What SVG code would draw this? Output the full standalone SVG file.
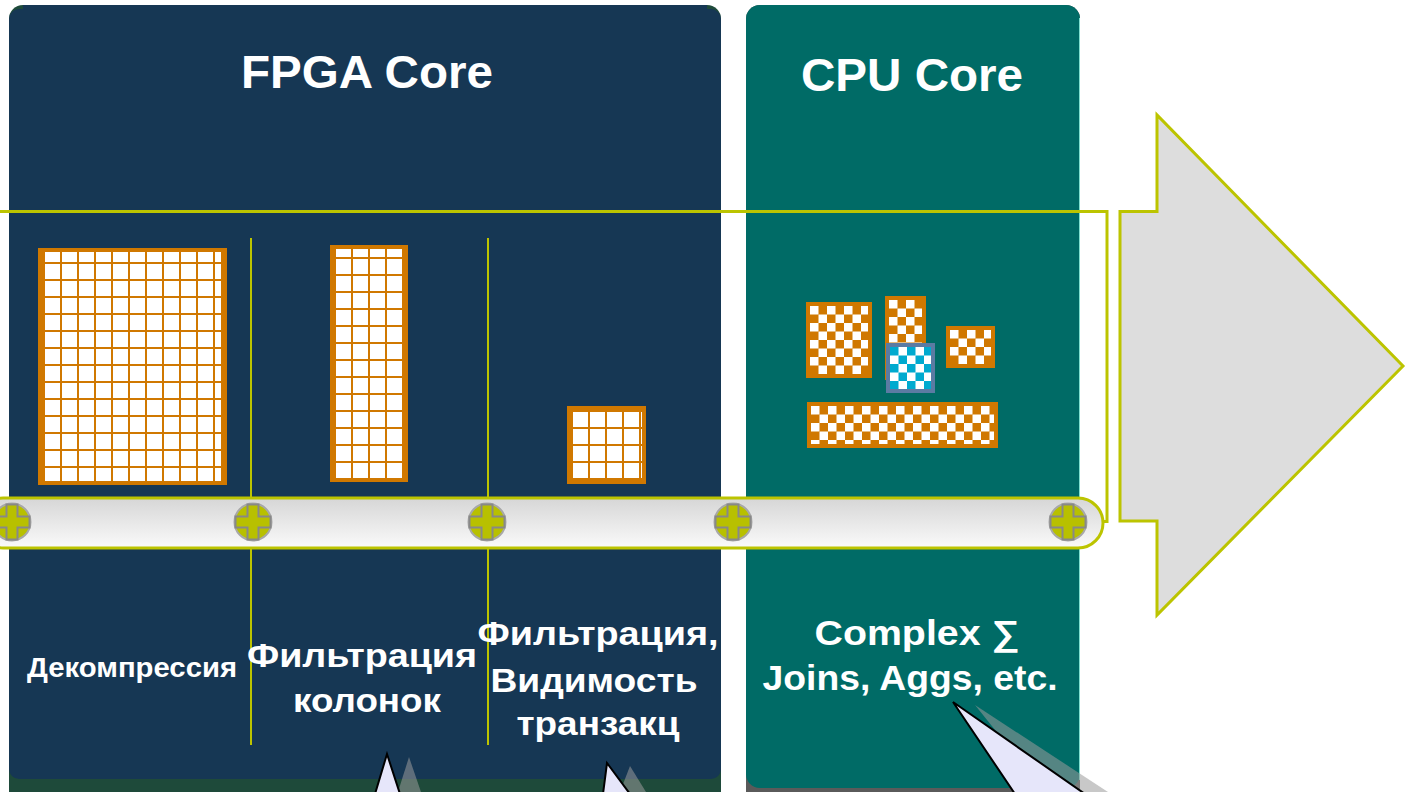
<svg xmlns="http://www.w3.org/2000/svg" width="1408" height="792" viewBox="0 0 1408 792">
  <defs>
    <style>
      .lime { stroke: #BCC400; fill: none; }
      .ttl { font-family: "Liberation Sans", Arial, sans-serif; font-weight: bold; fill: #FFFFFF; text-anchor: middle; }
      .lbl { font-family: "Liberation Sans", Arial, sans-serif; font-weight: bold; fill: #FFFFFF; text-anchor: middle; }
      .frame { fill: #D07800; }
      .tip { fill: #E6E6FA; stroke: #000000; stroke-width: 2; stroke-linejoin: miter; }
      .tipshade { fill: #9A9A9A; opacity: 0.55; }
    </style>
    <!-- orange grid lines on white -->
    <pattern id="grid" width="17" height="17" patternUnits="userSpaceOnUse">
      <rect width="17" height="17" fill="#FFFFFF"/>
      <rect x="0" y="0" width="2" height="17" fill="#D07800"/>
      <rect x="0" y="0" width="17" height="2" fill="#D07800"/>
    </pattern>
    <!-- orange/white checkerboard -->
    <pattern id="chkO" width="17" height="17" patternUnits="userSpaceOnUse">
      <rect width="17" height="17" fill="#D07800"/>
      <rect x="0" y="0" width="8.5" height="8.5" fill="#FFFFFF"/>
      <rect x="8.5" y="8.5" width="8.5" height="8.5" fill="#FFFFFF"/>
    </pattern>
    <!-- cyan/white checkerboard -->
    <pattern id="chkB" width="17" height="17" patternUnits="userSpaceOnUse">
      <rect width="17" height="17" fill="#FFFFFF"/>
      <rect x="0" y="0" width="8.5" height="8.5" fill="#00AACF"/>
      <rect x="8.5" y="8.5" width="8.5" height="8.5" fill="#00AACF"/>
    </pattern>
    <linearGradient id="belt" x1="0" y1="0" x2="0" y2="1">
      <stop offset="0" stop-color="#D6D6D6"/>
      <stop offset="1" stop-color="#FAFAFA"/>
    </linearGradient>
    <g id="screw">
      <circle r="18.5" fill="#B8C000" stroke="#A8A8A8" stroke-width="2"/>
      <path d="M-5.5 -17.5 H5.5 V-5.5 H17.5 V5.5 H5.5 V17.5 H-5.5 V5.5 H-17.5 V-5.5 H-5.5 Z" fill="#B8C000" stroke="#888888" stroke-width="2"/>
    </g>
  </defs>

  <rect width="1408" height="792" fill="#FFFFFF"/>

  <!-- FPGA panel -->
  <g id="fpga-panel">
    <rect x="9" y="5" width="712" height="800" rx="14" fill="#1E4A3A"/>
    <rect x="9" y="9" width="712" height="770" rx="10" fill="#163754"/>
    <rect x="23" y="5" width="684" height="10" fill="#163754"/>
    <text class="ttl" x="367" y="88" font-size="46" textLength="252" lengthAdjust="spacingAndGlyphs">FPGA Core</text>
  </g>

  <!-- CPU panel -->
  <g id="cpu-panel">
    <rect x="746" y="5" width="334" height="800" rx="14" fill="#5A5A5A"/>
    <rect x="746" y="5" width="334" height="783" rx="14" fill="#006B66"/>
    <line x1="1079.5" y1="18" x2="1079.5" y2="780" stroke="#7FE0D0" stroke-width="1"/>
    <text class="ttl" x="912" y="91" font-size="46" textLength="222" lengthAdjust="spacingAndGlyphs">CPU Core</text>
  </g>

  <!-- pipeline frame and stage dividers -->
  <g id="connectors">
    <rect class="lime" x="-10" y="211.5" width="1117" height="310" stroke-width="3"/>
    <line class="lime" x1="251" y1="238" x2="251" y2="745" stroke-width="2"/>
    <line class="lime" x1="488" y1="238" x2="488" y2="745" stroke-width="2"/>
  </g>

  <!-- decompression block -->
  <g id="block-decompress">
    <rect class="frame" x="38" y="248" width="189" height="237"/>
    <g transform="translate(43,245)">
      <rect x="0" y="7" width="180" height="229" fill="url(#grid)"/>
    </g>
    <rect x="221" y="252" width="2" height="229" fill="#D07800"/>
  </g>

  <!-- column filter block -->
  <g id="block-columns">
    <rect class="frame" x="330" y="245" width="78" height="237"/>
    <g transform="translate(334,240)">
      <rect x="0" y="9" width="70" height="229" fill="url(#grid)"/>
    </g>
  </g>

  <!-- visibility filter block -->
  <g id="block-visibility">
    <rect class="frame" x="567" y="406" width="79" height="78"/>
    <g transform="translate(571,410)">
      <rect x="0" y="0" width="71" height="70" fill="url(#grid)"/>
    </g>
  </g>

  <!-- CPU working sets -->
  <g id="cpu-blocks">
    <rect class="frame" x="806" y="302" width="66" height="76"/>
    <g transform="translate(810,306)"><rect width="58" height="68" fill="url(#chkO)"/></g>
    <rect class="frame" x="885" y="296" width="41" height="84"/>
    <g transform="translate(889,300)"><rect width="33" height="76" fill="url(#chkO)"/></g>
    <rect class="frame" x="946" y="326" width="49" height="42"/>
    <g transform="translate(950,330)"><rect width="41" height="34" fill="url(#chkO)"/></g>
    <rect class="frame" x="807" y="402" width="191" height="46"/>
    <g transform="translate(811,406)"><rect width="183" height="38" fill="url(#chkO)"/></g>
    <rect x="886" y="343" width="49" height="50" fill="#5B7BA3"/>
    <g transform="translate(890,347)"><rect width="41" height="42" fill="url(#chkB)"/></g>
  </g>

  <!-- conveyor belt with fasteners -->
  <g id="belt">
    <rect x="-22" y="498" width="1125" height="50" rx="25" fill="url(#belt)" stroke="#BCC400" stroke-width="3"/>
    <use href="#screw" x="12" y="522"/>
    <use href="#screw" x="253" y="522"/>
    <use href="#screw" x="487" y="522"/>
    <use href="#screw" x="733" y="522"/>
    <use href="#screw" x="1068" y="522"/>
  </g>

  <!-- stage labels -->
  <g id="label-decompress">
    <text class="lbl" x="132" y="677" font-size="27" textLength="210" lengthAdjust="spacingAndGlyphs">Декомпрессия</text>
  </g>
  <g id="label-columns">
    <text class="lbl" x="362" y="667" font-size="34" textLength="230" lengthAdjust="spacingAndGlyphs">Фильтрация</text>
    <text class="lbl" x="367" y="712" font-size="34" textLength="148" lengthAdjust="spacingAndGlyphs">колонок</text>
  </g>
  <g id="label-visibility">
    <text class="lbl" x="598" y="645" font-size="34" textLength="241" lengthAdjust="spacingAndGlyphs">Фильтрация,</text>
    <text class="lbl" x="594" y="692" font-size="34" textLength="207" lengthAdjust="spacingAndGlyphs">Видимость</text>
    <text class="lbl" x="598" y="735" font-size="34" textLength="163" lengthAdjust="spacingAndGlyphs">транзакц</text>
  </g>
  <g id="label-cpu">
    <text class="lbl" x="917" y="645" font-size="35" textLength="205" lengthAdjust="spacingAndGlyphs">Complex ∑</text>
    <text class="lbl" x="910" y="690" font-size="35" textLength="295" lengthAdjust="spacingAndGlyphs">Joins, Aggs, etc.</text>
  </g>

  <!-- output arrow -->
  <g id="output-arrow">
    <path d="M1120 211.5 H1157 V115 L1403 366 L1157 615 V521 H1120 Z" fill="#DDDDDD" stroke="#BCC400" stroke-width="3" stroke-linejoin="miter"/>
  </g>

  <!-- callout pointers -->
  <g id="callouts">
    <polygon class="tipshade" points="398,792 409,757 421,792"/>
    <polygon class="tip" points="375,794 387,754 400,794"/>
    <polygon class="tipshade" points="620,792 630,766 646,792"/>
    <polygon class="tip" points="603,794 607,763 630,794"/>
    <polygon class="tipshade" points="975,705 1108,792 1045,792"/>
    <polygon class="tip" points="1015,794 953,702 1085,794"/>
  </g>
</svg>
